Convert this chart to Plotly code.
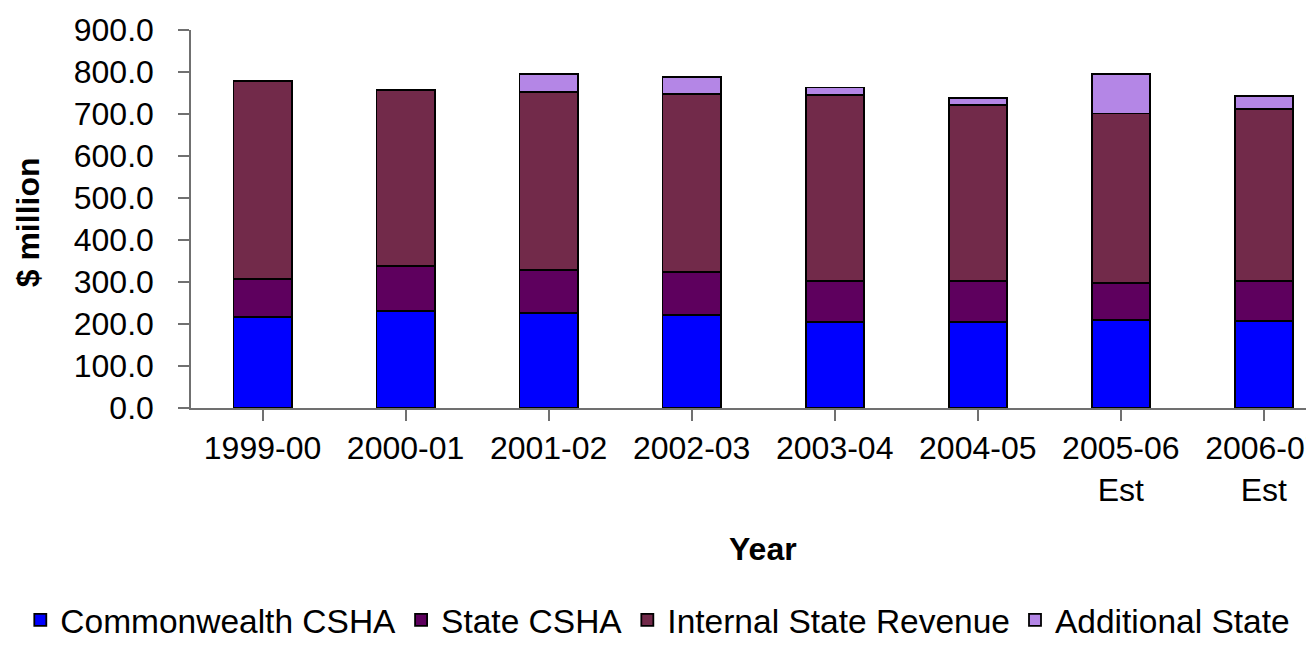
import plotly.graph_objects as go

categories = ["1999-00", "2000-01", "2001-02", "2002-03", "2003-04", "2004-05",
              "2005-06<br>Est", "2006-07<br>Est"]
commonwealth_csha = [216, 231, 226, 221, 205, 205, 209, 208]
state_csha = [92, 108, 103, 103, 98, 98, 88, 95]
internal_state_revenue = [471, 419, 424, 424, 443, 418, 404, 408]
additional_state = [0, 0, 42, 41, 17, 17, 94, 32]

y_ticks = [0, 100, 200, 300, 400, 500, 600, 700, 800, 900]

series = [
    ("Commonwealth CSHA", commonwealth_csha, "#0000FF"),
    ("State CSHA", state_csha, "#5E005E"),
    ("Internal State Revenue", internal_state_revenue, "#722A4A"),
    ("Additional State", additional_state, "#B486E6"),
]

FONT = "Liberation Sans, Arial, sans-serif"

fig = go.Figure()
for name, vals, col in series:
    fig.add_trace(go.Bar(
        x=list(range(len(categories))), y=vals, name=name,
        marker=dict(color=col, line=dict(color="#000000", width=1.8)),
    ))

plot_l, plot_r, plot_t, plot_b = 183, 1314, 22, 400
W, H = 1314, 648
pw, ph = plot_r - plot_l, plot_b - plot_t

fig.update_layout(
    width=W, height=H,
    barmode="stack", bargap=0.593,
    plot_bgcolor="white", paper_bgcolor="white",
    margin=dict(l=plot_l, r=W - plot_r, t=plot_t, b=H - plot_b, pad=0),
    font=dict(family=FONT, size=32, color="black"),
    showlegend=True,
    legend=dict(
        orientation="h", traceorder="normal",
        xref="paper", yref="paper",
        x=(12 - plot_l) / pw, y=(plot_b - 612) / ph, xanchor="left", yanchor="middle",
        font=dict(family=FONT, size=33.5, color="black"),
        itemwidth=30, tracegroupgap=0,
        bgcolor="rgba(0,0,0,0)",
    ),
    xaxis=dict(
        tickmode="array", tickvals=list(range(len(categories))), ticktext=categories,
        range=[-0.5, -0.5 + pw / 143.3],
        showline=True, linecolor="#707070", linewidth=1.5,
        ticks="outside", ticklen=11, tickcolor="#707070", tickwidth=1.5,
        tickson="boundaries", showgrid=False, zeroline=False,
        ticklabelstandoff=0, ticklabeloverflow="allow",
        tickfont=dict(family=FONT, size=32),
    ),
    yaxis=dict(
        range=[0, 900], tickmode="array", tickvals=y_ticks,
        ticktext=[f"{v:.1f}" for v in y_ticks],
        showline=True, linecolor="#707070", linewidth=1.5,
        ticks="outside", ticklen=11, tickcolor="#707070", tickwidth=1.5,
        showgrid=False, zeroline=False,
        ticklabelstandoff=18,
        tickfont=dict(family=FONT, size=32),
    ),
    annotations=[
        dict(text="<b>$ million</b>", xref="paper", yref="paper",
             x=(20 - plot_l) / pw, y=(plot_b - 214) / ph,
             xanchor="center", yanchor="middle", textangle=-90, showarrow=False,
             font=dict(family=FONT, size=32)),
        dict(text="<b>Year</b>", xref="paper", yref="paper",
             x=(756 - plot_l) / pw, y=(plot_b - 541) / ph,
             xanchor="center", yanchor="middle", showarrow=False,
             font=dict(family=FONT, size=32)),
    ],
)

fig.write_html("out.html")
